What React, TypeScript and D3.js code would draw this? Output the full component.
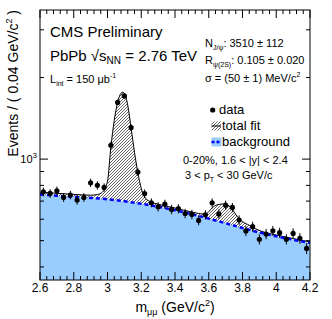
import React from "react";
import * as d3 from "d3";

// dimuon invariant mass, bin centres (GeV/c^2), 0.04 wide bins
const binCenters = [
  2.62, 2.66, 2.7, 2.74, 2.78, 2.82, 2.86, 2.9, 2.94, 2.98,
  3.02, 3.06, 3.1, 3.14, 3.18, 3.22, 3.26, 3.3, 3.34, 3.38,
  3.42, 3.46, 3.5, 3.54, 3.58, 3.62, 3.66, 3.7, 3.74, 3.78,
  3.82, 3.86, 3.9, 3.94, 3.98, 4.02, 4.06, 4.1, 4.14, 4.18,
];
const counts = [
  757, 747, 764, 722, 737, 706, 722, 818, 800, 786,
  1124, 1619, 1711, 1307, 896, 746, 690, 667, 682, 652,
  656, 630, 625, 594, 623, 690, 627, 676, 663, 596,
  543, 563, 506, 529, 544, 535, 506, 532, 510, 468,
];
const countErrors = [
  28, 27, 28, 27, 27, 27, 27, 29, 28, 28,
  34, 40, 41, 36, 30, 27, 26, 26, 26, 26,
  26, 25, 25, 24, 25, 26, 25, 26, 26, 24,
  23, 24, 22, 23, 23, 23, 22, 23, 23, 22,
];

// total fit curve
const fitMass = [
  2.6, 2.7, 2.8, 2.9, 2.94, 2.97, 3.0, 3.02, 3.04, 3.06, 3.08, 3.09, 3.1,
  3.12, 3.14, 3.16, 3.18, 3.2, 3.22, 3.25, 3.3, 3.4, 3.5, 3.58, 3.6, 3.62,
  3.65, 3.686, 3.72, 3.74, 3.76, 3.78, 3.8, 3.84, 3.88, 3.94, 4.0, 4.1, 4.2,
];
const fitTotal = [
  755, 748, 741, 736, 740, 755, 830, 1110, 1390, 1620, 1750, 1765, 1750,
  1580, 1300, 1060, 890, 780, 725, 698, 682, 660, 638, 626, 640, 660,
  678, 683, 672, 652, 625, 603, 588, 570, 552, 535, 525, 509, 495,
];

// background component
const bkgMass = [2.6, 2.7, 2.8, 2.9, 3.0, 3.1, 3.2, 3.3, 3.4, 3.5, 3.6, 3.7, 3.8, 3.9, 4.0, 4.1, 4.2];
const bkgValues = [740, 733, 726, 719, 711, 699, 684, 667, 648, 626, 603, 580, 557, 536, 519, 504, 491];

const xMajorTicks = [2.6, 2.8, 3.0, 3.2, 3.4, 3.6, 3.8, 4.0, 4.2];
const xTickLabels = ["2.6", "2.8", "3", "3.2", "3.4", "3.6", "3.8", "4", "4.2"];
const yMajorTicks = [1000];
const yMinorTicks = [400, 500, 600, 700, 800, 900, 2000, 3000];

const W = 332, H = 319;
const m = { left: 40, right: 310, top: 10, bottom: 280 };
const font = "'Liberation Sans', Arial, Helvetica, sans-serif";

export default function App() {
  const x = d3.scaleLinear().domain([2.6, 4.2]).range([m.left, m.right]);
  const y = d3.scaleLog().domain([358, 3550]).range([m.bottom, m.top]);

  const fitPts: [number, number][] = fitMass.map((v, i) => [v, fitTotal[i]]);
  const bkgPts: [number, number][] = bkgMass.map((v, i) => [v, bkgValues[i]]);

  const line = d3.line<[number, number]>()
    .x(d => x(d[0])).y(d => y(d[1])).curve(d3.curveMonotoneX);
  const area = d3.area<[number, number]>()
    .x(d => x(d[0])).y0(m.bottom).y1(d => y(d[1])).curve(d3.curveMonotoneX);

  const minorX = d3.range(0, 41).map(i => 2.6 + i * 0.04);

  return (
    <div style={{ position: "absolute", left: 0, top: 0 }}>
      <svg width={W} height={H} style={{ display: "block", background: "#fff" }} fontFamily={font}>
        <defs>
          <pattern id="hatch" patternUnits="userSpaceOnUse" width="3" height="3">
            <path d="M-1,1 l2,-2 M0,3 l3,-3 M2,4 l2,-2" stroke="#000" strokeWidth="0.6" />
          </pattern>
          <clipPath id="frame">
            <rect x={m.left} y={m.top} width={m.right - m.left} height={m.bottom - m.top} />
          </clipPath>
        </defs>

        <g clipPath="url(#frame)">
          <path d={area(fitPts) || ""} fill="url(#hatch)" />
          <path d={area(bkgPts) || ""} fill="#99ccff" />
          <path d={line(fitPts) || ""} fill="none" stroke="#000" strokeWidth={1} />
          <path d={line(bkgPts) || ""} fill="none" stroke="#0000ff" strokeWidth={2.5} strokeDasharray="4,3" />
          {binCenters.map((c, i) => (
            <g key={i}>
              <line x1={x(c)} x2={x(c)} y1={y(counts[i] - countErrors[i])} y2={y(counts[i] + countErrors[i])} stroke="#000" strokeWidth={1} />
              <circle cx={x(c)} cy={y(counts[i])} r={2.6} fill="#000" />
            </g>
          ))}
        </g>

        {/* frame and ticks */}
        <rect x={m.left} y={m.top} width={m.right - m.left} height={m.bottom - m.top} fill="none" stroke="#000" strokeWidth={1} />
        {minorX.map((t, i) => {
          const len = i % 5 === 0 ? 8 : 4;
          return (
            <g key={"xt" + i} stroke="#000" strokeWidth={1}>
              <line x1={x(t)} x2={x(t)} y1={m.bottom} y2={m.bottom - len} />
              <line x1={x(t)} x2={x(t)} y1={m.top} y2={m.top + len} />
            </g>
          );
        })}
        {yMajorTicks.concat(yMinorTicks).map((t, i) => {
          const len = yMajorTicks.includes(t) ? 8 : 4;
          return (
            <g key={"yt" + i} stroke="#000" strokeWidth={1}>
              <line x1={m.left} x2={m.left + len} y1={y(t)} y2={y(t)} />
              <line x1={m.right} x2={m.right - len} y1={y(t)} y2={y(t)} />
            </g>
          );
        })}

        {xMajorTicks.map((t, i) => (
          <text key={"xl" + i} x={x(t)} y={292} fontSize={12} textAnchor="middle">{xTickLabels[i]}</text>
        ))}
        <text x={37} y={y(1000) + 4} fontSize={11} textAnchor="end">
          10<tspan dy={-5} fontSize={8}>3</tspan>
        </text>

        <text x={175} y={312} fontSize={14} textAnchor="middle">
          m<tspan dy={3} fontSize={9}>μμ</tspan><tspan dy={-3}> (GeV/c</tspan><tspan dy={-6} fontSize={9}>2</tspan><tspan dy={6}>)</tspan>
        </text>
        <text transform="rotate(-90)" x={-m.top} y={18} fontSize={14} textAnchor="end">
          Events / ( 0.04 GeV/c<tspan dy={-6} fontSize={9}>2</tspan><tspan dy={6}> )</tspan>
        </text>

        <text x={50} y={37} fontSize={15}>CMS Preliminary</text>
        <text x={50} y={61} fontSize={15}>
          PbPb  √s<tspan dy={3} fontSize={10}>NN</tspan><tspan dy={-3}> = 2.76 TeV</tspan>
        </text>
        <text x={50} y={83} fontSize={11}>
          L<tspan dy={3} fontSize={7}>int</tspan><tspan dy={-3}> = 150 μb</tspan><tspan dy={-5} fontSize={7}>-1</tspan>
        </text>

        <text x={205} y={47} fontSize={11}>
          N<tspan dy={3} fontSize={7}>J/ψ</tspan><tspan dy={-3}>: 3510 ± 112</tspan>
        </text>
        <text x={205} y={64} fontSize={11}>
          R<tspan dy={3} fontSize={7}>ψ(2S)</tspan><tspan dy={-3}>: 0.105 ± 0.020</tspan>
        </text>
        <text x={205} y={82} fontSize={11}>
          σ = (50 ± 1) MeV/c<tspan dy={-5} fontSize={7}>2</tspan>
        </text>

        {/* legend */}
        <circle cx={212.7} cy={110} r={2.6} fill="#000" />
        <text x={219} y={114} fontSize={13}>data</text>
        <rect x={211.5} y={121.5} width={9.5} height={9} fill="url(#hatch)" />
        <line x1={211.5} x2={221} y1={126} y2={126} stroke="#000" strokeWidth={1} />
        <text x={222} y={130} fontSize={13}>total fit</text>
        <rect x={211.5} y={137.5} width={10} height={9} fill="#99ccff" />
        <line x1={211.5} x2={221.5} y1={142} y2={142} stroke="#0000ff" strokeWidth={2.5} strokeDasharray="3,2" />
        <text x={222} y={146} fontSize={13}>background</text>

        <text x={183} y={164} fontSize={11}>0-20%, 1.6 &lt; |y| &lt; 2.4</text>
        <text x={185} y={179} fontSize={11}>
          3 &lt; p<tspan dy={3} fontSize={7}>T</tspan><tspan dy={-3}> &lt; 30 GeV/c</tspan>
        </text>
      </svg>
    </div>
  );
}
